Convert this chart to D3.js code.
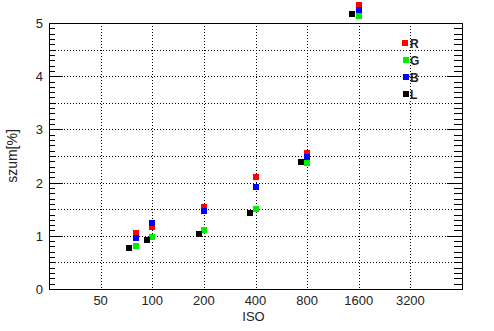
<!DOCTYPE html>
<html>
<head>
<meta charset="utf-8">
<script src="https://cdn.jsdelivr.net/npm/d3@7"></script>
<style>
  body { margin: 0; background: #fff; }
  svg { display: block; font-family: "Liberation Sans", Arial, sans-serif; }
</style>
</head>
<body>
<div id="app"></div>
<script>
const WIDTH = 494;
const HEIGHT = 331;

// ISO values of the colour channels and of the luminance channel
const isoRGB = [80, 100, 200, 400, 800, 1600];
const isoL = [73, 93, 187, 372, 738, 1463];

const noiseR = [1.06, 1.16, 1.55, 2.11, 2.56, 5.34];
const noiseG = [0.81, 0.98, 1.11, 1.51, 2.37, 5.14];
const noiseB = [0.96, 1.24, 1.47, 1.92, 2.48, 5.24];
const noiseL = [0.78, 0.92, 1.04, 1.43, 2.39, 5.16];

const xTickValues = [50, 100, 200, 400, 800, 1600, 3200];
const yTickValues = [0, 1, 2, 3, 4, 5];

const series = [
  { name: "R", color: "#ff0000", iso: isoRGB, values: noiseR },
  { name: "G", color: "#00ee00", iso: isoRGB, values: noiseG },
  { name: "B", color: "#0000ff", iso: isoRGB, values: noiseB },
  { name: "L", color: "#000000", iso: isoL, values: noiseL },
];

const margin = { top: 23, right: 32, bottom: 42, left: 49 };
const MARKER = 6;

const svg = d3.select("#app").append("svg")
  .attr("width", WIDTH)
  .attr("height", HEIGHT);

const x = d3.scaleLog().base(2)
  .domain([25, 6400])
  .range([margin.left, WIDTH - margin.right]);

const y = d3.scaleLinear()
  .domain([0, 5])
  .range([HEIGHT - margin.bottom, margin.top]);

const [x0, x1] = x.range();
const [y0, y1] = y.range();

// dotted grid
const grid = svg.append("g").attr("stroke", "#000").attr("stroke-dasharray", "1,2");
grid.selectAll("line.v")
  .data(xTickValues)
  .join("line")
  .attr("class", "v")
  .attr("x1", (d) => Math.round(x(d)) + 0.5)
  .attr("x2", (d) => Math.round(x(d)) + 0.5)
  .attr("y1", y1)
  .attr("y2", y0);
grid.selectAll("line.h")
  .data(d3.range(0.5, 5, 0.5))
  .join("line")
  .attr("class", "h")
  .attr("x1", x0)
  .attr("x2", x1)
  .attr("y1", (d) => Math.round(y(d)) + 0.5)
  .attr("y2", (d) => Math.round(y(d)) + 0.5);

// y ticks, minor and major, on both sides
const minor = d3.range(0, 51).map((i) => i / 10);
const ticks = svg.append("g").attr("stroke", "#000");
ticks.selectAll("line.l")
  .data(minor)
  .join("line")
  .attr("class", "l")
  .attr("x1", x0)
  .attr("x2", (d, i) => x0 + (i % 10 === 0 ? 14 : 6))
  .attr("y1", (d) => Math.round(y(d)) + 0.5)
  .attr("y2", (d) => Math.round(y(d)) + 0.5);
ticks.selectAll("line.r")
  .data(minor)
  .join("line")
  .attr("class", "r")
  .attr("x1", x1)
  .attr("x2", (d, i) => x1 - (i % 10 === 0 ? 15 : 8))
  .attr("y1", (d) => Math.round(y(d)) + 0.5)
  .attr("y2", (d) => Math.round(y(d)) + 0.5);

// frame
svg.append("rect")
  .attr("x", x0 + 0.5)
  .attr("y", y1 + 0.5)
  .attr("width", x1 - x0)
  .attr("height", y0 - y1)
  .attr("fill", "none")
  .attr("stroke", "#000");

// tick labels
svg.append("g")
  .selectAll("text")
  .data(yTickValues)
  .join("text")
  .attr("x", x0 - 6)
  .attr("y", (d) => y(d) + 5)
  .attr("text-anchor", "end")
  .attr("font-size", 13)
  .attr("fill", "#222")
  .text((d) => d);

svg.append("g")
  .selectAll("text")
  .data(xTickValues)
  .join("text")
  .attr("x", (d) => x(d))
  .attr("y", y0 + 16)
  .attr("text-anchor", "middle")
  .attr("font-size", 13)
  .attr("fill", "#222")
  .text((d) => d);

svg.append("text")
  .attr("x", (x0 + x1) / 2 - 2)
  .attr("y", y0 + 32)
  .attr("text-anchor", "middle")
  .attr("font-size", 13)
  .attr("fill", "#222")
  .text("ISO");

svg.append("text")
  .attr("transform", `translate(17,${(y0 + y1) / 2}) rotate(-90)`)
  .attr("text-anchor", "middle")
  .attr("font-size", 14)
  .attr("fill", "#222")
  .text("szum[%]");

// markers (not clipped: the 1600 points sit above the frame)
series.forEach((s) => {
  svg.append("g")
    .selectAll("rect")
    .data(s.values.map((v, i) => [s.iso[i], v]))
    .join("rect")
    .attr("x", (d) => Math.round(x(d[0]) - MARKER / 2))
    .attr("y", (d) => Math.round(y(d[1]) - MARKER / 2))
    .attr("width", MARKER)
    .attr("height", MARKER)
    .attr("fill", s.color);
});

// legend
const legend = svg.append("g")
  .selectAll("g")
  .data(series)
  .join("g")
  .attr("transform", (d, i) => `translate(406,${43 + i * 17})`);
legend.append("rect")
  .attr("x", (d, i) => (i === 0 ? -4 : -3))
  .attr("y", -3)
  .attr("width", MARKER)
  .attr("height", MARKER)
  .attr("fill", (d) => d.color);
legend.append("text")
  .attr("x", 4)
  .attr("y", 5)
  .attr("font-size", 12)
  .attr("font-weight", "bold")
  .attr("fill", "#222")
  .text((d) => d.name);
</script>
</body>
</html>
